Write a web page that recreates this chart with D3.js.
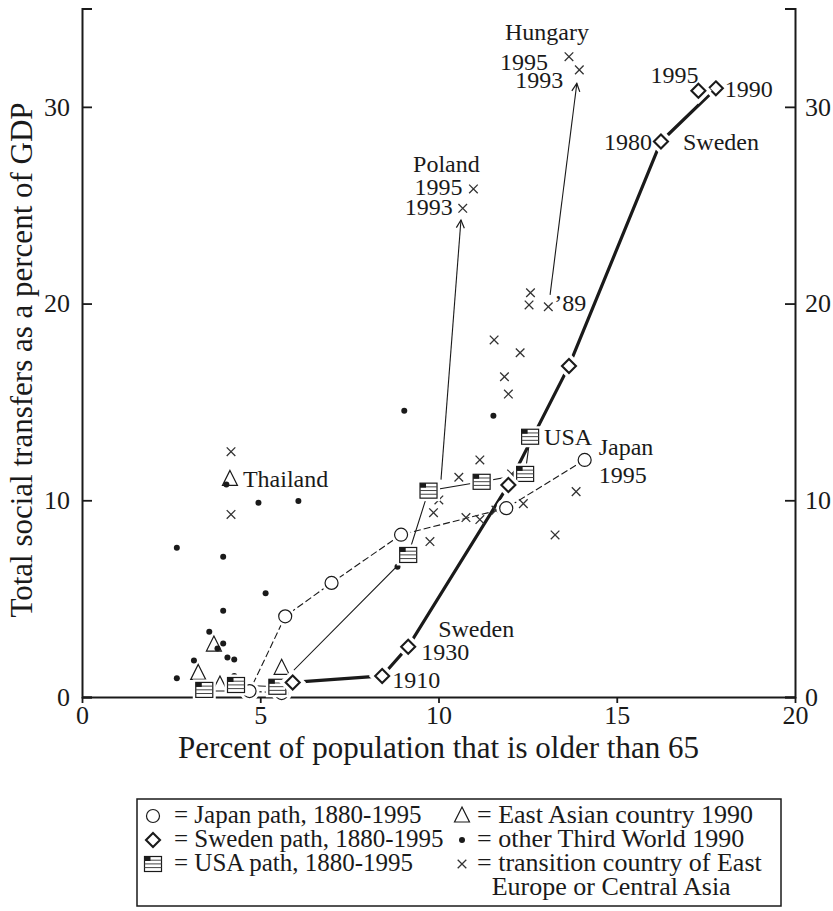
<!DOCTYPE html>
<html>
<head>
<meta charset="utf-8">
<script src="https://cdn.jsdelivr.net/npm/d3@7"></script>
<style>
  html, body { margin: 0; padding: 0; background: #fff; }
  svg { display: block; font-family: "Liberation Serif", "DejaVu Serif", serif; }
</style>
</head>
<body>
<svg id="chart" width="833" height="911"></svg>
<script>
// ---- data: [percent aged 65+, social transfers % of GDP] ----
const xTicks = [0, 5, 10, 15, 20];
const yTicks = [0, 10, 20, 30];

const japanPath = [[5.6, 0.2], [4.7, 0.3], [5.7, 4.1], [7.0, 5.8], [8.95, 8.25], [11.9, 9.6], [14.1, 12.05]];
const swedenPath = [[5.91, 0.74], [8.42, 1.07], [9.15, 2.56], [11.96, 10.78], [13.66, 16.83], [16.24, 28.24], [17.78, 30.94], [17.29, 30.82]];
const usaPath = [[3.43, 0.36], [4.32, 0.61], [5.48, 0.52], [9.15, 7.22], [9.72, 10.49], [11.21, 10.94], [12.43, 11.34], [12.57, 13.23]];

const eastAsia = [[4.15, 11.06], [3.70, 2.64], [3.26, 1.2], [3.87, 0.61], [5.6, 1.46]];

const thirdWorld = [[4.95, 9.88], [6.07, 9.96], [2.66, 7.59], [3.96, 7.13], [5.15, 5.27], [3.96, 4.39],
  [3.57, 3.32], [3.96, 2.72], [4.08, 2.01], [4.27, 1.91], [3.14, 1.85], [2.66, 0.95], [4.27, 1.07],
  [4.05, 10.8], [3.8, 2.47], [9.04, 14.55], [11.54, 14.3], [8.85, 6.62]];

const transition = [[4.18, 12.47], [4.18, 9.28], [10.98, 25.83], [10.68, 24.84], [13.66, 32.55], [13.95, 31.88],
  [12.58, 20.55], [12.54, 19.93], [13.08, 19.84], [11.56, 18.15], [12.29, 17.5], [11.85, 16.28], [11.96, 15.4],
  [11.16, 12.05], [10.57, 11.17], [12.05, 11.34], [10.01, 10.02], [9.86, 9.37], [9.76, 7.9], [10.77, 9.12],
  [11.16, 9.02], [11.61, 9.5], [12.38, 9.83], [13.86, 10.44], [13.27, 8.24]];

// Poland and Hungary: from 1989 up to their 1993 values
const polandArrow = [[10.07, 11.05], [10.63, 24.25]];
const hungaryArrow = [[13.13, 20.44], [13.88, 31.19]];

const legendLeft = ["= Japan path, 1880-1995", "= Sweden path, 1880-1995", "= USA path, 1880-1995"];
const legendRight = ["= East Asian country 1990", "= other Third World 1990", "= transition country of East"];
const legendRightWrap = "Europe or Central Asia";

// ---- layout ----
const svg = d3.select("#chart");
const ink = "#1a1a1a";
const x = d3.scaleLinear().domain([0, 20]).range([82, 795]);
const y = d3.scaleLinear().domain([0, 35]).range([697, 8.5]);

// axes: left and right axes carry inward ticks, bottom axis small outward ticks
const axisFont = 26;
const gx = svg.append("g").attr("transform", `translate(0,${y(0)})`)
  .call(d3.axisBottom(x).tickValues(xTicks).tickSize(6).tickSizeOuter(0).tickPadding(3));
const gl = svg.append("g").attr("transform", `translate(${x(0)},0)`)
  .call(d3.axisLeft(y).tickValues(yTicks).tickSizeInner(-10).tickSizeOuter(-10).tickPadding(12));
const gr = svg.append("g").attr("transform", `translate(${x(20)},0)`)
  .call(d3.axisRight(y).tickValues(yTicks).tickSizeInner(-10).tickSizeOuter(-10).tickPadding(10));
[gx, gl, gr].forEach(g => {
  g.select(".domain").attr("stroke", ink).attr("stroke-width", 2);
  g.selectAll(".tick line").attr("stroke", ink).attr("stroke-width", 1.8);
  g.selectAll(".tick text").attr("fill", ink).attr("font-size", axisFont)
    .attr("font-family", "Liberation Serif");
});

svg.append("text").attr("x", x(10)).attr("y", 758).attr("text-anchor", "middle")
  .attr("font-size", 31).attr("fill", ink).text("Percent of population that is older than 65");
svg.append("text").attr("transform", "translate(32,360) rotate(-90)")
  .attr("text-anchor", "middle").attr("font-size", 31).attr("fill", ink)
  .text("Total social transfers as a percent of GDP");

// ---- paths ----
const line = d3.line().x(d => x(d[0])).y(d => y(d[1]));
const plot = svg.append("g");
plot.append("path").datum(usaPath).attr("d", line).attr("fill", "none")
  .attr("stroke", ink).attr("stroke-width", 1.1);
plot.append("path").datum(japanPath).attr("d", line).attr("fill", "none")
  .attr("stroke", ink).attr("stroke-width", 1.1).attr("stroke-dasharray", "7,3");
plot.append("path").datum(swedenPath).attr("d", line).attr("fill", "none")
  .attr("stroke", ink).attr("stroke-width", 3.2);

// arrows
const defs = svg.append("defs");
defs.append("marker").attr("id", "head").attr("viewBox", "-10 -6 12 12")
  .attr("markerWidth", 12).attr("markerHeight", 12).attr("markerUnits", "userSpaceOnUse")
  .attr("orient", "auto").attr("refX", 0).attr("refY", 0)
  .append("path").attr("d", "M-8,-4L0,0L-8,4").attr("fill", "none").attr("stroke", ink).attr("stroke-width", 1.2);
[polandArrow, hungaryArrow].forEach(a => {
  plot.append("path").datum(a).attr("d", line).attr("stroke", ink).attr("stroke-width", 1.1)
    .attr("fill", "none").attr("marker-end", "url(#head)");
});

// ---- marker shapes ----
function shape(g, type) {
  if (type === "circle") return g.append("circle").attr("r", 6.5);
  if (type === "diamond") return g.append("path").attr("d", "M0,-7L7,0L0,7L-7,0Z");
  if (type === "triangle") return g.append("path").attr("d", "M0,-9L7.5,6H-7.5Z");
  if (type === "flag") return g.append("rect").attr("x", -8.5).attr("y", -7.5).attr("width", 17).attr("height", 15);
}
function marker(g, type, halo) {
  if (halo) shape(g, type).attr("fill", "#fff").attr("stroke", "#fff").attr("stroke-width", halo);
  const s = shape(g, type).attr("fill", "#fff").attr("stroke", ink)
    .attr("stroke-width", type === "diamond" ? 2.1 : 1.2);
  if (type === "flag") {
    [-3.8, -0.1, 3.6].forEach(v => g.append("line").attr("x1", -8.5).attr("x2", 8.5)
      .attr("y1", v).attr("y2", v).attr("stroke", "#444").attr("stroke-width", 1));
    g.append("rect").attr("x", -8.5).attr("y", -7.5).attr("width", 6).attr("height", 4.5).attr("fill", ink);
  }
  return s;
}
function dot(g) { g.append("circle").attr("r", 3).attr("fill", ink); }
function cross(g) {
  g.append("path").attr("d", "M-4.3,-4.3L4.3,4.3M-4.3,4.3L4.3,-4.3")
    .attr("stroke", "#333").attr("stroke-width", 1.3);
}

const at = d => `translate(${x(d[0])},${y(d[1])})`;
eastAsia.forEach(d => marker(plot.append("g").attr("transform", at(d)), "triangle", 0));
thirdWorld.forEach(d => dot(plot.append("g").attr("transform", at(d))));
transition.forEach(d => cross(plot.append("g").attr("transform", at(d))));
japanPath.forEach(d => marker(plot.append("g").attr("transform", at(d)), "circle", 7));
usaPath.forEach(d => marker(plot.append("g").attr("transform", at(d)), "flag", 6));
swedenPath.forEach(d => marker(plot.append("g").attr("transform", at(d)), "diamond", 9));

// ---- labels ----
const labelFont = 24;
function label(pt, txt, dx, dy, anchor) {
  plot.append("text").attr("x", x(pt[0]) + dx).attr("y", y(pt[1]) + dy)
    .attr("text-anchor", anchor || "start").attr("font-size", labelFont).attr("fill", ink).text(txt);
}
label(eastAsia[0], "Thailand", 13, 8);
label(usaPath[7], "USA", 14, 8);
label(japanPath[6], "Japan", 14, -5);
label(japanPath[6], "1995", 14, 23);
label(swedenPath[1], "1910", 10, 12);
label(swedenPath[2], "1930", 13, 13);
label(swedenPath[2], "Sweden", 30, -10);
label(swedenPath[5], "1980", -9, 9, "end");
label(swedenPath[5], "Sweden", 22, 9);
label(swedenPath[7], "1995", 0, -8, "end");
label(swedenPath[6], "1990", 9, 9);
label(transition[2], "Poland", -27, -17, "middle");
label(transition[2], "1995", -11, 6, "end");
label(transition[3], "1993", -10, 7, "end");
label(transition[4], "Hungary", -22, -17, "middle");
label(transition[4], "1995", -21, 13, "end");
label(transition[5], "1993", -16, 18, "end");
label(transition[8], "\u201989", 6, 4);

// ---- legend ----
const lg = svg.append("g");
lg.append("rect").attr("x", 137).attr("y", 799).attr("width", 644).attr("height", 107)
  .attr("fill", "none").attr("stroke", ink).attr("stroke-width", 1.5);
const rowY = [823, 847, 871, 895];
const leftTypes = ["circle", "diamond", "flag"];
legendLeft.forEach((t, i) => {
  marker(lg.append("g").attr("transform", `translate(153,${rowY[i] - 7})`), leftTypes[i], 0);
  lg.append("text").attr("x", 174).attr("y", rowY[i]).attr("font-size", 25).attr("fill", ink).text(t);
});
const rightDraw = [g => marker(g, "triangle", 0), dot, cross];
const rightX = 477;
legendRight.forEach((t, i) => {
  rightDraw[i](lg.append("g").attr("transform", `translate(${rightX - 15},${rowY[i] - 7})`));
  lg.append("text").attr("x", rightX).attr("y", rowY[i]).attr("font-size", 26).attr("fill", ink).text(t);
});
// continuation line sits under the words after "= "
const probe = lg.append("text").attr("font-size", 26).text("= ");
const indent = probe.node().getComputedTextLength();
probe.remove();
lg.append("text").attr("x", rightX + indent).attr("y", rowY[3]).attr("font-size", 26).attr("fill", ink)
  .text(legendRightWrap);
</script>
</body>
</html>
